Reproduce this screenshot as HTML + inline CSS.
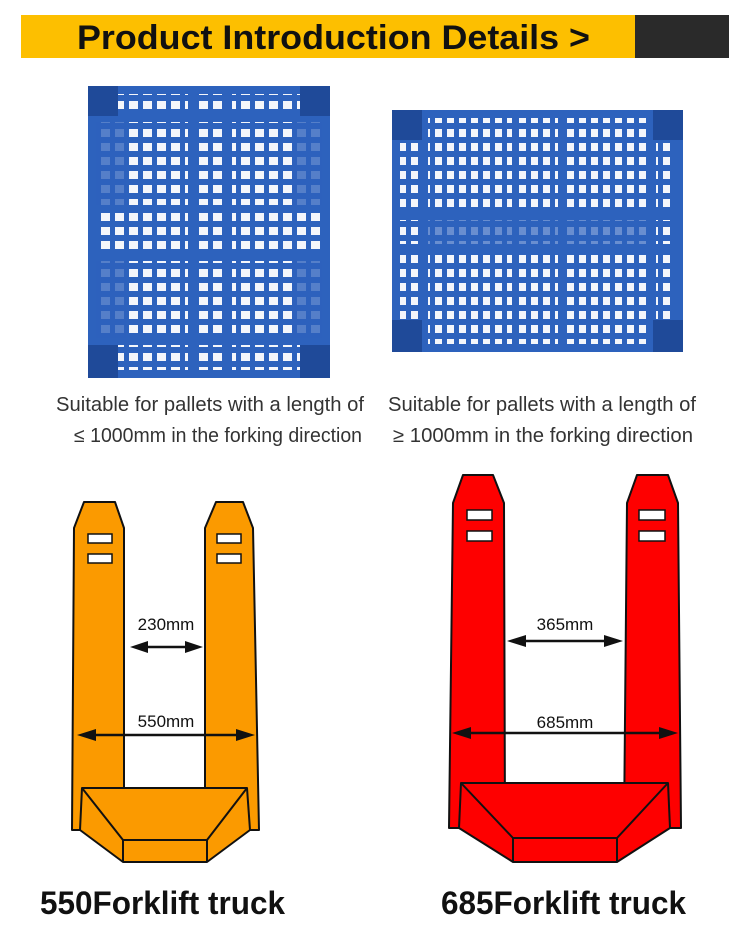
<!DOCTYPE html>
<html><head><meta charset="utf-8"><style>
html,body{margin:0;padding:0;background:#fff;width:750px;height:940px;overflow:hidden}
svg{display:block}
text{font-family:"Liberation Sans",sans-serif}
</style></head><body>
<svg width="750" height="940" viewBox="0 0 750 940" xmlns="http://www.w3.org/2000/svg">
<defs>
<pattern id="g1" x="0" y="0" width="14" height="14" patternUnits="userSpaceOnUse">
<rect width="14" height="14" fill="#2d62bd"/><rect x="3" y="3" width="9" height="8" fill="#f4f6fb"/>
</pattern>
<pattern id="g2" x="0" y="0" width="12" height="14" patternUnits="userSpaceOnUse">
<rect width="12" height="14" fill="#2d62bd"/><rect x="3" y="3" width="7" height="8" fill="#f4f6fb"/>
</pattern>
</defs>
<!-- header -->
<rect x="21" y="15" width="614" height="43" fill="#fdbf00"/>
<rect x="635" y="15" width="94" height="43" fill="#2a2a2a"/>
<text x="77" y="49" font-size="34" font-weight="bold" fill="#111" textLength="513" lengthAdjust="spacingAndGlyphs">Product Introduction Details &gt;</text>

<!-- pallet 1 -->
<rect x="88" y="86" width="242" height="292" rx="7" fill="url(#g1)"/>
<g fill="#2d62bd">
<rect x="88" y="86" width="242" height="8"/><rect x="88" y="370" width="242" height="8" rx="4"/>
<rect x="88" y="86" width="8" height="292"/><rect x="322" y="86" width="8" height="292"/>
<rect x="88" y="115" width="242" height="7"/><rect x="88" y="205" width="242" height="8"/>
<rect x="88" y="253" width="242" height="8"/><rect x="88" y="338" width="242" height="7"/>
<rect x="188" y="86" width="8" height="292"/><rect x="224" y="86" width="8" height="292"/>
<rect x="96" y="122" width="30" height="83" opacity=".8"/><rect x="292" y="122" width="30" height="83" opacity=".8"/>
<rect x="96" y="261" width="30" height="77" opacity=".8"/><rect x="292" y="261" width="30" height="77" opacity=".8"/>
<rect x="88" y="86" width="30" height="30" fill="#1f4a99"/><rect x="300" y="86" width="30" height="30" fill="#1f4a99"/>
<rect x="88" y="345" width="30" height="33" fill="#1f4a99"/><rect x="300" y="345" width="30" height="33" fill="#1f4a99"/>
</g>
<!-- pallet 2 -->
<rect x="392" y="110" width="291" height="242" rx="7" fill="url(#g2)"/>
<g fill="#2d62bd">
<rect x="392" y="110" width="291" height="8"/><rect x="392" y="344" width="291" height="8"/>
<rect x="392" y="110" width="8" height="242"/><rect x="675" y="110" width="8" height="242"/>
<rect x="420" y="110" width="8" height="242"/><rect x="512" y="110" width="7" height="242"/>
<rect x="558" y="110" width="7" height="242"/><rect x="648" y="110" width="8" height="242"/>
<rect x="392" y="212" width="291" height="8"/><rect x="392" y="244" width="291" height="8"/>
<rect x="428" y="220" width="220" height="24" opacity=".7"/>
<rect x="392" y="110" width="30" height="30" fill="#1f4a99"/><rect x="653" y="110" width="30" height="30" fill="#1f4a99"/>
<rect x="392" y="320" width="30" height="32" fill="#1f4a99"/><rect x="653" y="320" width="30" height="32" fill="#1f4a99"/>
</g>

<!-- captions -->
<g font-size="20" fill="#333">
<text x="56" y="411" textLength="308" lengthAdjust="spacingAndGlyphs">Suitable for pallets with a length of</text>
<text x="74" y="442" textLength="288" lengthAdjust="spacingAndGlyphs">≤ 1000mm in the forking direction</text>
<text x="388" y="411" textLength="308" lengthAdjust="spacingAndGlyphs">Suitable for pallets with a length of</text>
<text x="393" y="442" textLength="300" lengthAdjust="spacingAndGlyphs">≥ 1000mm in the forking direction</text>
</g>

<!-- orange truck -->
<g fill="#fb9a00" stroke="#111" stroke-width="2" stroke-linejoin="round">
<polygon points="84,502 115,502 124,528 124,830 72,830 74,528"/>
<polygon points="216,502 243,502 253,528 259,830 205,830 205,528"/>
<polygon points="82,788 247,788 250,830 207,862 123,862 80,830"/>
<polyline points="82,788 123,840 207,840 247,788" fill="none"/>
<line x1="123" y1="840" x2="123" y2="862"/><line x1="207" y1="840" x2="207" y2="862"/>
</g>
<g fill="#fff" stroke="#111" stroke-width="1.5">
<rect x="88" y="534" width="24" height="9"/><rect x="88" y="554" width="24" height="9"/>
<rect x="217" y="534" width="24" height="9"/><rect x="217" y="554" width="24" height="9"/>
</g>
<g stroke="#111" stroke-width="2.5">
<line x1="138" y1="647" x2="195" y2="647"/><line x1="88" y1="735" x2="245" y2="735"/>
</g>
<g fill="#111">
<polygon points="130,647 148,641 148,653"/><polygon points="203,647 185,641 185,653"/>
<polygon points="77,735 96,729 96,741"/><polygon points="255,735 236,729 236,741"/>
</g>
<text x="166" y="630" font-size="17" text-anchor="middle" fill="#111">230mm</text>
<text x="166" y="727" font-size="17" text-anchor="middle" fill="#111">550mm</text>

<!-- red truck -->
<g fill="#fe0000" stroke="#111" stroke-width="2" stroke-linejoin="round">
<polygon points="463,475 493,475 504,503 505,828 449,828 453,503"/>
<polygon points="637,475 668,475 678,503 681,828 624,828 627,503"/>
<polygon points="461,783 668,783 670,828 617,862 513,862 459,828"/>
<polyline points="461,783 513,838 617,838 668,783" fill="none"/>
<line x1="513" y1="838" x2="513" y2="862"/><line x1="617" y1="838" x2="617" y2="862"/>
</g>
<g fill="#fff" stroke="#111" stroke-width="1.5">
<rect x="467" y="510" width="25" height="10"/><rect x="467" y="531" width="25" height="10"/>
<rect x="639" y="510" width="26" height="10"/><rect x="639" y="531" width="26" height="10"/>
</g>
<g stroke="#111" stroke-width="2.5">
<line x1="515" y1="641" x2="615" y2="641"/><line x1="462" y1="733" x2="668" y2="733"/>
</g>
<g fill="#111">
<polygon points="507,641 526,635 526,647"/><polygon points="623,641 604,635 604,647"/>
<polygon points="452,733 471,727 471,739"/><polygon points="678,733 659,727 659,739"/>
</g>
<text x="565" y="630" font-size="17" text-anchor="middle" fill="#111">365mm</text>
<text x="565" y="728" font-size="17" text-anchor="middle" fill="#111">685mm</text>

<!-- titles -->
<text x="40" y="914" font-size="32" font-weight="bold" fill="#111" textLength="245" lengthAdjust="spacingAndGlyphs">550Forklift truck</text>
<text x="441" y="914" font-size="32" font-weight="bold" fill="#111" textLength="245" lengthAdjust="spacingAndGlyphs">685Forklift truck</text>
</svg>
</body></html>
